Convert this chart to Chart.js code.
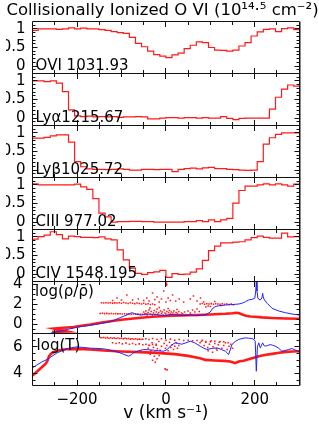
<!DOCTYPE html>
<html><head><meta charset="utf-8">
<script src="https://cdn.jsdelivr.net/npm/chart.js@4.4.1/dist/chart.umd.min.js"></script>
<style>html,body{margin:0;padding:0;background:#fff;}canvas{display:block;}</style>
</head><body>
<canvas id="c" width="319" height="424"></canvas>
<script>
// ---------- data ----------
const titleText = 'Collisionally Ionized O VI (10\u00b9\u2074\u00b7\u2075 cm\u207b\u00b2)';
const xTitle = 'v (km s\u207b\u00b9)';
const panelNames = ['OVI 1031.93', 'Ly\u03b11215.67', 'Ly\u03b21025.72', 'CIII 977.02', 'CIV 1548.195', 'log(\u03c1/\u03c1\u0304)', 'log(T)'];
const xLabelValues = [-200, 0, 200];
const fluxLabelValues = [0, 0.5, 1];
const rhoLabelValues = [0, 2, 4];
const tLabelValues = [4, 6];

const binEdges = [-301.4, -287.7, -274, -260.3, -246.6, -232.9, -219.2, -205.5, -191.8, -178.1, -164.4, -150.7, -137, -123.3, -109.6, -95.9, -82.2, -68.5, -54.8, -41.1, -27.4, -13.7, 0, 13.7, 27.4, 41.1, 54.8, 68.5, 82.2, 95.9, 109.6, 123.3, 137, 150.7, 164.4, 178.1, 191.8, 205.5, 219.2, 232.9, 246.6, 260.3, 274, 287.7, 301.4];

const fluxOVI = [0.96, 1.0, 1.0, 1.0, 0.99, 1.0, 1.03, 1.0, 1.02, 1.0, 1.0, 0.98, 0.96, 0.93, 0.90, 0.88, 0.77, 0.61, 0.52, 0.40, 0.31, 0.27, 0.23, 0.30, 0.35, 0.47, 0.56, 0.65, 0.63, 0.50, 0.43, 0.42, 0.40, 0.43, 0.54, 0.63, 0.81, 0.92, 0.99, 1.0, 0.93, 1.01, 1.03, 0.98];
const fluxLya = [1.0, 1.0, 0.98, 1.0, 0.94, 0.71, 0.22, 0.06, 0.04, 0.05, 0.03, 0.04, 0.03, 0.04, 0.02, 0.03, 0.03, 0.04, 0.03, -0.02, -0.02, 0.0, 0.01, 0.01, 0.0, 0.01, 0.01, 0.0, 0.01, 0.0, 0.0, 0.04, -0.01, -0.04, -0.01, 0.0, 0.0, 0.0, 0.0, 0.24, 0.56, 0.78, 0.89, 0.86];
const fluxLyb = [0.86, 0.86, 0.88, 0.92, 0.95, 0.95, 0.75, 0.23, 0.09, 0.03, 0.02, 0.02, 0.01, 0.02, 0.03, 0.02, 0.0, 0.0, 0.02, 0.02, 0.01, 0.02, 0.02, -0.04, 0.02, 0.04, 0.05, 0.03, 0.06, 0.07, 0.04, 0.04, 0.02, 0.01, 0.0, -0.01, 0.0, 0.23, 0.70, 0.87, 0.96, 1.0, 1.0, 1.0];
const fluxCIII = [1.03, 1.0, 1.0, 1.0, 1.0, 1.0, 1.0, 1.02, 0.95, 0.88, 0.63, 0.24, 0.14, 0.0, 0.01, 0.01, 0.02, 0.02, 0.01, 0.01, 0.0, 0.0, 0.0, 0.0, 0.0, 0.01, 0.01, 0.04, 0.01, 0.06, 0.01, 0.06, 0.10, 0.51, 0.85, 0.97, 0.97, 1.0, 1.03, 1.0, 1.03, 1.0, 0.97, 1.02];
const fluxCIV = [0.94, 1.01, 1.05, 1.14, 1.06, 0.95, 1.02, 1.01, 0.99, 0.99, 0.98, 1.0, 0.95, 0.92, 0.65, 0.38, 0.16, 0.02, -0.01, 0.04, 0.06, 0.10, -0.09, 0.01, -0.01, 0.0, 0.05, 0.14, 0.37, 0.63, 0.75, 0.84, 0.84, 0.86, 0.87, 0.92, 0.98, 1.02, 0.99, 0.97, 0.97, 1.1, 1.0, 1.01];

// log density panel
const rhoBlueV = [-262, -250, -235, -220, -205, -193, -178, -163, -148, -136, -125, -114, -103, -95, -88, -82, -77, -71, -65, -59, -54, -48, -43, -36, -28, -20, -13, -7, -1.5, 4, 10, 17, 25, 32, 40, 47, 55, 62, 70, 77, 85, 92, 100, 104, 110, 115, 125, 134, 145, 156, 164, 171, 179, 186, 194, 200, 202, 203.5, 205, 207, 212, 216, 217.7, 219.5, 222, 228, 239, 254, 269, 284, 300];
const rhoBlue = [-0.95, -0.82, -0.68, -0.52, -0.38, -0.27, -0.18, -0.08, 0.03, 0.13, 0.23, 0.42, 0.63, 0.78, 0.9, 1.02, 1.13, 1.05, 0.97, 0.92, 0.9, 0.96, 1.0, 0.97, 0.97, 0.93, 0.9, 0.86, 0.83, 0.9, 0.97, 0.93, 0.9, 0.86, 0.83, 0.87, 0.9, 0.86, 0.83, 0.88, 0.9, 1.0, 1.2, 1.5, 1.7, 1.8, 1.85, 1.9, 1.93, 1.97, 2.0, 2.07, 2.23, 2.4, 2.47, 2.57, 3.2, 4.23, 3.3, 2.57, 2.4, 2.6, 3.07, 2.6, 2.4, 2.07, 1.57, 1.3, 1.13, 1.0, 0.9];
const rhoRedV = [-256, -240, -222, -252, -238, -222, -208, -190, -170, -148, -125, -100, -73, -50, -30, -10, 10, 30, 50, 70, 89, 110, 134, 150, 158, 165, 172, 180, 190, 201, 216, 239, 269, 300];
const rhoRed = [-0.78, -0.77, -0.75, -0.45, -0.4, -0.35, -0.3, -0.18, -0.05, 0.12, 0.27, 0.42, 0.55, 0.65, 0.72, 0.78, 0.83, 0.86, 0.88, 0.9, 0.93, 0.97, 1.02, 1.08, 1.13, 1.08, 0.95, 0.83, 0.75, 0.73, 0.66, 0.6, 0.55, 0.52];
const rhoDotV = [-145, -140, -135, -130, -125, -120, -115, -110, -105, -100, -95, -90, -85, -80, -75, -70, -65, -60, -55, -50, -45, -40, -35, -30, -25,
  -88, -75, -62, -50, -43, -38, -30, -25, -20, -15, -10, -5, 0, 5, 10, 15, 22, 30, 40, -120, -100, -110,
  0, 1, 2, 1,
  -148, -143, -138, -133, -128, -123, -118, -113, -108, -103, -98, -93, -88, -83, -78, -73, -68, -63, -58, -53, -48, -43,
  -50, -47, -45, -42, -40, -38, -35, -33, -30, -28, -26, -24, -22, -20, -18, -16, -14, -12, -10, -8, -6, -4, -2, 0, 2, 4, 6, 8, 10, 12, 14, 16, 18, 20, 23, 26, 29, 32, 35, 38, 42, 45, -36, -15, 5, 25,
  77, 82, 87, 92, 97, 102, 107, 112, 117, 122, 127, 132, 137, 142, 147, 152, 85, 95, 110, 125, 90, 100,
  50, 55, 60, 65, 70, 75, 55, 62, 70, 78];
const rhoDot = [2.12, 2.1, 2.13, 2.1, 2.12, 2.09, 2.11, 2.1, 2.13, 2.08, 2.15, 2.1, 2.05, 2.12, 2.08, 2.02, 2.1, 2.05, 2.0, 2.08, 1.98, 2.02, 1.95, 2.0, 1.92,
  2.9, 2.4, 2.5, 2.35, 2.6, 2.3, 3.1, 2.45, 2.7, 2.2, 2.5, 3.3, 2.2, 2.6, 2.35, 2.9, 2.3, 2.5, 2.2, 2.35, 2.4, 2.6,
  4.15, 4.05, 3.95, 3.85,
  1.05, 1.07, 1.04, 1.06, 1.03, 1.05, 1.02, 1.04, 1.01, 1.03, 1.0, 1.02, 0.99, 1.01, 0.98, 1.0, 0.97, 0.99, 0.96, 0.98, 0.95, 0.97,
  1.2, 1.05, 1.3, 0.9, 1.15, 1.4, 1.0, 1.25, 0.85, 1.1, 1.35, 0.95, 1.2, 1.5, 1.0, 1.15, 0.8, 1.3, 1.05, 1.2, 0.9, 1.4, 1.1, 1.0, 1.25, 0.85, 1.15, 1.35, 1.0, 1.2, 0.9, 1.1, 1.3, 0.95, 1.15, 1.05, 1.25, 0.9, 1.1, 1.0, 1.2, 0.95, 1.6, 1.65, 1.55, 1.45,
  2.0, 2.05, 1.98, 2.02, 2.0, 2.04, 1.97, 2.02, 2.0, 1.96, 2.03, 1.98, 2.0, 1.95, 1.99, 1.93, 2.2, 1.8, 2.25, 1.85, 1.7, 1.75,
  1.3, 1.1, 1.4, 1.2, 1.5, 1.25, 2.5, 2.8, 2.3, 2.6];

// log temperature panel
const tBlueV = [-300, -290, -280, -268, -256, -245, -234, -223, -212, -200, -185, -170, -155, -140, -125, -114, -103, -92, -84, -78, -73, -62, -50, -40, -28, -16, -5, 3, 10, 16, 21, 28, 36, 45, 55, 65, 77, 85, 92, 103, 115, 125, 134, 138, 141, 144, 148.6, 156, 163.6, 171, 178.7, 186, 193.6, 198, 201, 203.5, 206, 209, 212.5, 215, 217.7, 220.5, 223.6, 229, 234.8, 240, 246, 254, 261, 268, 276, 284, 292, 300];
const tBlue = [4.43, 4.65, 4.85, 5.05, 5.3, 5.55, 5.7, 5.85, 5.93, 6.0, 5.95, 5.9, 5.88, 5.85, 5.75, 5.65, 5.55, 5.4, 5.3, 5.4, 5.55, 5.7, 5.8, 5.78, 5.75, 5.7, 5.67, 5.8, 6.05, 6.2, 6.3, 6.25, 6.2, 6.3, 6.42, 6.3, 6.05, 5.9, 5.8, 5.88, 5.92, 5.8, 5.67, 5.55, 5.42, 5.7, 6.17, 6.4, 6.55, 6.62, 6.67, 6.65, 6.62, 6.55, 6.42, 4.17, 6.0, 6.3, 5.92, 6.1, 6.3, 6.1, 6.05, 6.1, 6.17, 6.12, 6.05, 5.9, 5.67, 5.72, 5.8, 5.87, 5.75, 5.62];
const tRedV = [-300, -290, -280, -270, -266, -263, -258, -250, -240, -225, -200, -170, -140, -100, -60, -20, 20, 50, 77, 89, 110, 130, 145, 152, 156, 160, 166, 175, 190, 209, 225, 240, 255, 270, 285, 300];
const tRed = [3.85, 4.15, 4.45, 4.75, 5.0, 5.3, 5.5, 5.65, 5.75, 5.82, 5.85, 5.8, 5.72, 5.65, 5.6, 5.55, 5.45, 5.32, 5.15, 5.02, 4.98, 4.95, 4.9, 4.82, 4.78, 4.85, 4.92, 4.95, 5.1, 5.3, 5.4, 5.47, 5.55, 5.62, 5.65, 5.67];
const tDotV = [-148, -144, -140, -136, -132, -128, -124, -120, -116, -112, -108, -104, -100, -96, -92, -88, -84, -80, -76, -72, -68, -64, -60, -56, -52,
  -45, -38, -30, -20, -10, 0, 10, 20, 30, 40, 50, 60, 70, 80, 90, 100, 110, 120, 130, 140,
  -120, -112, -105, -98, -90, -82, -75, -68, -60, -52, -45, -38, -30, -22,
  -40, -37, -34, -31, -28, -25, -22, -19, -16, -13, -10, -7, -4, -1, 2, 5, 8, 11, 14, 17, 20, 23, 26, 29, -35, -26, -20, -30, -24, -15,
  -2, 0, 3, 100,
  77, 82, 86, 90, 94, 98, 102, 106, 110, 114, 118, 122, 126, 130, 134, 138, 142, 146, 150, 95, 105, 115];
const tDot = [6.7, 6.68, 6.7, 6.66, 6.69, 6.65, 6.68, 6.64, 6.67, 6.63, 6.66, 6.62, 6.65, 6.6, 6.64, 6.6, 6.62, 6.58, 6.61, 6.57, 6.6, 6.56, 6.58, 6.55, 6.57,
  6.6, 6.55, 6.62, 6.55, 6.6, 6.5, 6.58, 6.5, 6.55, 6.48, 6.5, 6.45, 6.48, 6.42, 6.4, 6.38, 6.42, 6.35, 6.38, 6.3,
  6.3, 6.25, 6.3, 6.22, 6.28, 6.2, 6.25, 6.18, 6.22, 6.15, 6.2, 6.12, 6.18, 6.1,
  5.9, 6.1, 5.7, 6.3, 5.95, 5.6, 6.2, 5.85, 6.4, 5.75, 6.05, 5.5, 6.25, 5.9, 6.1, 5.7, 6.35, 5.95, 6.15, 5.8, 6.05, 6.3, 5.9, 6.1, 5.45, 5.3, 5.1, 5.0, 4.85, 5.35,
  4.35, 4.3, 4.28, 3.3,
  6.3, 6.5, 6.1, 6.35, 5.95, 6.2, 6.45, 6.0, 6.25, 5.85, 6.15, 6.4, 5.9, 6.1, 6.3, 5.8, 6.05, 6.2, 5.9, 5.7, 5.6, 5.75];

// ---------- chart ----------
const FONT = '"DejaVu Sans", sans-serif';
Chart.defaults.font.family = FONT;
Chart.defaults.color = '#000';
const RED = 'rgb(255,25,25)', BLUE = 'rgb(35,35,255)';

const rnd = v => Math.round(v * 1000) / 1000;
const fmt = v => { v = rnd(v); return v < 0 ? '\u2212' + (-v) : String(v); };
const has = (arr, v) => arr.some(a => Math.abs(a - v) < 1e-6);
const pts = (xs, ys) => xs.map((x, i) => ({x, y: ys[i]}));
const steps = vals => binEdges.map((x, i) => ({x, y: vals[Math.min(i, vals.length - 1)]}));

const panelIds = ['yOVI', 'yLya', 'yLyb', 'yCIII', 'yCIV', 'yRho', 'yT'];
const panelCfg = [
  {min: -0.2, max: 1.2, step: 0.1, labels: fluxLabelValues, pad: 7},
  {min: -0.2, max: 1.2, step: 0.1, labels: fluxLabelValues, pad: 7},
  {min: -0.2, max: 1.2, step: 0.1, labels: fluxLabelValues, pad: 7},
  {min: -0.2, max: 1.2, step: 0.1, labels: fluxLabelValues, pad: 7},
  {min: -0.2, max: 1.2, step: 0.1, labels: fluxLabelValues, pad: 7},
  {min: -0.95, max: 4.25, step: 0.5, labels: rhoLabelValues, pad: 10},
  {min: 3.1, max: 7.0, step: 0.5, labels: tLabelValues, pad: 10}
];

const scales = {
  x: {
    type: 'linear', position: 'bottom', min: -300, max: 300,
    grid: {display: false, drawTicks: false}, border: {display: false},
    ticks: {stepSize: 50, autoSkip: false, includeBounds: false, maxRotation: 0, padding: 6, font: {size: 15},
      callback: v => has(xLabelValues, v) ? fmt(v) : ''},
    title: {display: true, text: xTitle, font: {size: 17}, padding: {top: 0, bottom: 0}},
    afterFit: s => { s.height = 38.5; }
  },
  yPad: {
    type: 'linear', position: 'right', display: true,
    grid: {display: false}, border: {display: false}, ticks: {display: false},
    afterFit: s => { s.width = 19.8; }
  }
};
panelIds.forEach((id, k) => {
  const c = panelCfg[k];
  scales[id] = {
    type: 'linear', position: 'left', stack: 'panels', stackWeight: 1, weight: 7 - k,
    min: c.min, max: c.max,
    grid: {display: false, drawTicks: false}, border: {display: false},
    ticks: {stepSize: c.step, autoSkip: false, includeBounds: false, padding: c.pad, font: {size: 15},
      callback: v => has(c.labels, v) ? fmt(v) : ''},
    afterFit: s => { s.width = 26.6; }
  };
});

const stepDs = (vals, id) => ({data: steps(vals), yAxisID: id, xAxisID: 'x', stepped: true,
  borderColor: RED, borderWidth: 1.2, pointRadius: 0, fill: false});
const lineDs = (xs, ys, id, color, w, order) => ({data: pts(xs, ys), yAxisID: id, xAxisID: 'x',
  borderColor: color, borderWidth: w, pointRadius: 0, fill: false, tension: 0, order});
const dotDs = (xs, ys, id) => ({data: pts(xs, ys), yAxisID: id, xAxisID: 'x', showLine: false,
  pointRadius: 1.1, pointStyle: 'rect', pointBackgroundColor: RED, pointBorderWidth: 0, order: 1});

const datasets = [
  stepDs(fluxOVI, 'yOVI'), stepDs(fluxLya, 'yLya'), stepDs(fluxLyb, 'yLyb'),
  stepDs(fluxCIII, 'yCIII'), stepDs(fluxCIV, 'yCIV'),
  lineDs(rhoRedV, rhoRed, 'yRho', RED, 2.6, 2), dotDs(rhoDotV, rhoDot, 'yRho'), lineDs(rhoBlueV, rhoBlue, 'yRho', BLUE, 1, 0),
  lineDs(tRedV, tRed, 'yT', RED, 2.6, 2), dotDs(tDotV, tDot, 'yT'), lineDs(tBlueV, tBlue, 'yT', BLUE, 1, 0)
];

const isMult = (v, s) => Math.abs(v / s - Math.round(v / s)) < 1e-6;
const crisp = v => Math.round(v - 0.5) + 0.5;

const framePlugin = {
  id: 'panelFrames',
  afterDatasetsDraw(chart) {
    const {ctx, chartArea: ca} = chart;
    const xs = chart.scales.x;
    const L = crisp(ca.left), R = crisp(ca.right);
    ctx.save();
    ctx.strokeStyle = '#111';
    ctx.lineWidth = 1;
    ctx.beginPath();
    panelIds.forEach((id, k) => {
      const s = chart.scales[id];
      const c = panelCfg[k];
      const T = crisp(s.top), B = crisp(s.bottom);
      ctx.rect(L, T, R - L, B - T);
      s.ticks.forEach(t => {
        const v = t.value;
        if (!isMult(v, c.step)) return;
        const y = crisp(s.getPixelForValue(v));
        if (y <= T + 1 || y >= B - 1) return;
        const len = has(c.labels, v) ? 5 : 3;
        ctx.moveTo(L, y); ctx.lineTo(L + len, y);
        ctx.moveTo(R, y); ctx.lineTo(R - len, y);
      });
      xs.ticks.forEach(t => {
        const v = t.value;
        if (!isMult(v, 50)) return;
        const x = crisp(xs.getPixelForValue(v));
        if (x <= L + 1 || x >= R - 1) return;
        const len = has(xLabelValues, v) ? 5.5 : 3.5;
        ctx.moveTo(x, T); ctx.lineTo(x, T + len);
        ctx.moveTo(x, B); ctx.lineTo(x, B - len);
      });
    });
    ctx.stroke();
    // slightly heavier right edge as in the reference
    const top = crisp(chart.scales[panelIds[0]].top), bot = crisp(chart.scales[panelIds[6]].bottom);
    ctx.strokeStyle = '#888';
    ctx.beginPath(); ctx.moveTo(R + 1, top); ctx.lineTo(R + 1, bot); ctx.stroke();
    // panel labels
    ctx.fillStyle = '#000';
    ctx.font = '15px ' + FONT;
    ctx.textAlign = 'left';
    panelIds.forEach((id, k) => {
      const s = chart.scales[id];
      if (k < 5) {
        ctx.textBaseline = 'alphabetic';
        ctx.fillText(panelNames[k], ca.left + 3, s.bottom - 3.5);
      } else {
        ctx.textBaseline = 'top';
        ctx.fillText(panelNames[k], ca.left + (k === 5 ? 2.5 : 4), s.top + (k === 5 ? 3 : 5.5));
      }
    });
    ctx.restore();
  }
};

new Chart(document.getElementById('c'), {
  type: 'line',
  data: {datasets},
  options: {
    responsive: false, animation: false, devicePixelRatio: 1, events: [],
    layout: {padding: {left: 6, right: 0, top: 0, bottom: 0}},
    plugins: {
      legend: {display: false}, tooltip: {enabled: false},
      title: {display: true, text: titleText, font: {size: 16.5, weight: 'normal'}, color: '#000', padding: {top: 1, bottom: 0.7}}
    },
    scales
  },
  plugins: [framePlugin]
});
</script>
</body></html>
